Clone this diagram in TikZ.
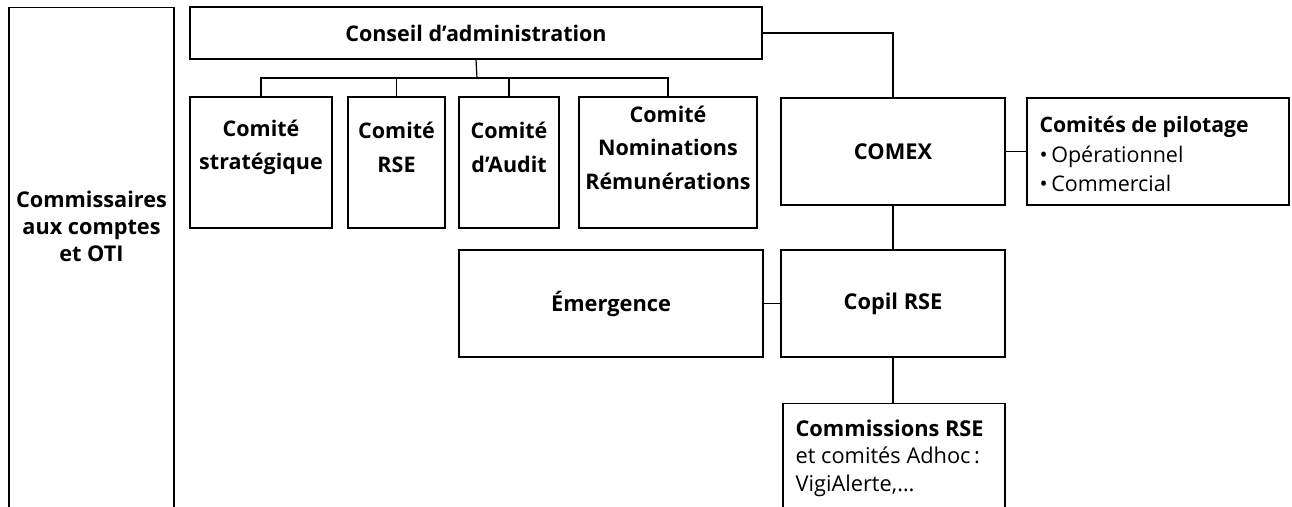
\documentclass[tikz,border=0pt]{standalone}
\usepackage{fontspec}
\setmainfont{Open Sans}
\tikzset{
  box/.style={draw, line width=1.2pt, align=center, inner sep=0pt, font=\bfseries\fontsize{21.8}{32}\selectfont},
  lbl/.style={inner sep=0pt, align=center, yshift=15pt, font=\bfseries\fontsize{21.5}{33.5}\selectfont},
  txt/.style={inner sep=0pt, align=center, font=\bfseries\fontsize{21.7}{27}\selectfont}
}
\begin{document}
\begin{tikzpicture}[x=1pt,y=-1pt,line width=1.2pt]
  \useasboundingbox (0,0) rectangle (1292,506);
  \clip (0,0) rectangle (1292,506);
  % left column, open at the bottom
  \node[box, minimum width=165, minimum height=560, anchor=north] (cac) at (91.5,7) {};
  \node[txt] (cactext) at (91.5,226) {Commissaires\\aux comptes\\et OTI};
  % board and committees
  \node[box, minimum width=572, minimum height=52, font=\bfseries\fontsize{21.5}{24}\selectfont] (ca) at (476,33) {Conseil d’administration};
  \node[box, minimum width=142, minimum height=131, label={[lbl]center:{Comité\\stratégique}}] (strat) at (261,162.5) {};
  \node[box, minimum width=97, minimum height=131, label={[lbl]center:{Comité\\RSE}}] (rse) at (396.5,162.5) {};
  \node[box, minimum width=100, minimum height=131, label={[lbl]center:{Comité\\d’Audit}}] (audit) at (509,162.5) {};
  \node[box, minimum width=178, minimum height=131, label={[lbl]center:{Comité\\Nominations\\Rémunérations}}] (nomin) at (668,162.5) {};
  \coordinate (bus) at (477,78);
  \draw (ca.south) -- (bus);
  \foreach \n in {strat,rse,audit,nomin}
    \draw (\n.north) |- (bus);
  % executive side
  \node[box, minimum width=224, minimum height=107] (comex) at (893,151.5) {COMEX};
  \node[box, minimum width=262, minimum height=107] (pilot) at (1158,151.5) {};
  \node[inner sep=0pt, anchor=north west, align=left, font=\fontsize{21.5}{29.5}\selectfont] (pilottext) at (1039,116)
    {{\bfseries\fontsize{21.2}{29.5}\selectfont Comités de pilotage}\\•\,Opérationnel\\•\,Commercial};
  \node[box, minimum width=224, minimum height=107] (copil) at (893,303.5) {Copil RSE};
  \node[box, minimum width=304, minimum height=107] (emerg) at (611,303.5) {Émergence};
  \node[box, minimum width=222, minimum height=200, anchor=north] (comm) at (894,403) {};
  \node[inner sep=0pt, anchor=north west, align=left, font=\fontsize{21.8}{27.5}\selectfont] (commtext) at (795,419)
    {\textbf{Commissions RSE}\\et comités Adhoc\,:\\VigiAlerte,…};
  \draw (ca.east) -| (comex.north);
  \draw (comex.east) -- (pilot.west);
  \draw (comex.south) -- (copil.north);
  \draw (emerg.east) -- (copil.west);
  \draw (copil.south) -- (copil.south |- comm.north);
\end{tikzpicture}
\end{document}
